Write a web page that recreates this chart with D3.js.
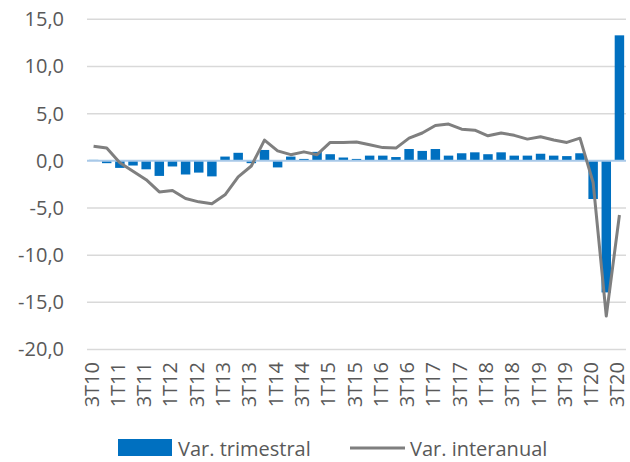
<!DOCTYPE html>
<html>
<head>
<meta charset="utf-8">
<script src="https://cdn.jsdelivr.net/npm/d3@7"></script>
<style>
  html, body { margin: 0; padding: 0; background: #ffffff; }
  svg { display: block; }
  text { font-family: "Open Sans", "Liberation Sans", sans-serif; fill: #595959; }
</style>
</head>
<body>
<svg id="chart" width="630" height="462"></svg>
<script>
const categories = ["3T10","4T10","1T11","2T11","3T11","4T11","1T12","2T12","3T12","4T12",
  "1T13","2T13","3T13","4T13","1T14","2T14","3T14","4T14","1T15","2T15",
  "3T15","4T15","1T16","2T16","3T16","4T16","1T17","2T17","3T17","4T17",
  "1T18","2T18","3T18","4T18","1T19","2T19","3T19","4T19","1T20","2T20","3T20"];
const tickLabels = ["3T10","1T11","3T11","1T12","3T12","1T13","3T13","1T14","3T14","1T15","3T15",
  "1T16","3T16","1T17","3T17","1T18","3T18","1T19","3T19","1T20","3T20"];
const varTrimestral = [0.1,-0.25,-0.75,-0.5,-0.9,-1.6,-0.6,-1.45,-1.25,-1.65,
  0.45,0.85,-0.25,1.15,-0.7,0.45,0.2,0.95,0.7,0.35,
  0.2,0.55,0.55,0.4,1.25,1.05,1.25,0.55,0.8,0.9,
  0.7,0.9,0.55,0.55,0.75,0.55,0.5,0.8,-4.05,-13.95,13.3];
const varInteranual = [1.55,1.35,-0.2,-1.1,-2.0,-3.3,-3.15,-4.0,-4.35,-4.55,
  -3.6,-1.7,-0.55,2.2,1.05,0.65,0.95,0.65,1.95,1.95,
  2.0,1.7,1.4,1.35,2.4,2.95,3.75,3.9,3.35,3.25,
  2.65,2.95,2.7,2.3,2.55,2.2,1.95,2.4,-2.3,-16.45,-5.75];
const yTicks = [-20,-15,-10,-5,0,5,10,15];
const seriesNames = ["Var. trimestral","Var. interanual"];

const svg = d3.select("#chart");
const x = d3.scaleBand().domain(categories).range([87, 626]).paddingInner(0.28).paddingOuter(0.14);
const xc = d3.scalePoint().domain(categories).range([87, 626]).padding(0.5);
const y = d3.scaleLinear().domain([-20, 15]).range([349.5, 19.3]);
const fmt = v => d3.format(".1f")(v).replace(".", ",").replace("−", "-");

// gridlines
svg.append("g").selectAll("line").data(yTicks.filter(d => d !== 0)).join("line")
  .attr("x1", 87).attr("x2", 626)
  .attr("y1", d => y(d)).attr("y2", d => y(d))
  .attr("stroke", "#d9d9d9").attr("stroke-width", 1.5);

// y labels
const yAxis = d3.axisLeft(y).tickValues(yTicks).tickSize(0).tickPadding(0).tickFormat(fmt);
const gy = svg.append("g").attr("transform", "translate(64,0)").call(yAxis);
gy.select(".domain").remove();
gy.selectAll("text").attr("font-size", 20).attr("fill", "#595959")
  .style("font-family", "'Open Sans', sans-serif");

// bars
svg.append("g").selectAll("rect").data(varTrimestral).join("rect")
  .attr("x", (d, i) => x(categories[i]))
  .attr("width", x.bandwidth())
  .attr("y", d => y(Math.max(0, d)))
  .attr("height", d => Math.abs(y(d) - y(0)))
  .attr("fill", "#0070c0");

// zero axis line
svg.append("line").attr("x1", 87).attr("x2", 626)
  .attr("y1", y(0)).attr("y2", y(0))
  .attr("stroke", "#a9c9e8").attr("stroke-width", 2);

// line
const line = d3.line().x((d, i) => xc(categories[i])).y(d => y(d));
svg.append("path").datum(varInteranual)
  .attr("d", line).attr("fill", "none")
  .attr("stroke", "#7f7f7f").attr("stroke-width", 3).attr("stroke-linejoin", "round");

// x labels
const xAxis = d3.axisBottom(xc).tickValues(tickLabels).tickSize(0).tickPadding(0);
const gx = svg.append("g").attr("transform", "translate(0,362)").call(xAxis);
gx.select(".domain").remove();
gx.selectAll("text")
  .attr("font-size", 20).attr("fill", "#595959")
  .style("font-family", "'Open Sans', sans-serif")
  .attr("text-anchor", "end")
  .attr("dy", null).attr("y", -3)
  .attr("dominant-baseline", "central")
  .attr("transform", "rotate(-90)");

// legend
const lg = svg.append("g");
lg.append("rect").attr("x", 118).attr("y", 439).attr("width", 54).attr("height", 17).attr("fill", "#0070c0");
lg.append("text").attr("x", 178).attr("y", 448).attr("dominant-baseline", "central")
  .attr("font-size", 20).text(seriesNames[0]);
lg.append("line").attr("x1", 350).attr("x2", 405).attr("y1", 448).attr("y2", 448)
  .attr("stroke", "#7f7f7f").attr("stroke-width", 3);
lg.append("text").attr("x", 410).attr("y", 448).attr("dominant-baseline", "central")
  .attr("font-size", 20).text(seriesNames[1]);
</script>
</body>
</html>
